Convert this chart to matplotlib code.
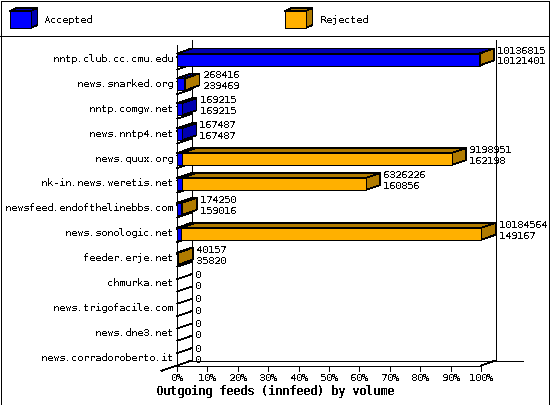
import matplotlib
matplotlib.use('Agg')
from matplotlib import pyplot as plt
from matplotlib.patches import Polygon, Rectangle

plt.rcParams['font.family'] = ['DejaVu Sans Mono']
plt.rcParams['text.antialiased'] = False
plt.rcParams['text.hinting'] = 'native'
plt.rcParams['text.hinting_factor'] = 1

hosts = ['nntp.club.cc.cmu.edu', 'news.snarked.org', 'nntp.comgw.net', 'news.nntp4.net',
         'news.quux.org', 'nk-in.news.weretis.net', 'newsfeed.endofthelinebbs.com',
         'news.sonologic.net', 'feeder.erje.net', 'chmurka.net', 'news.trigofacile.com',
         'news.dne3.net', 'news.corradoroberto.it']
offered = [10136815, 268416, 169215, 167487, 9198951, 6326226, 174250, 10184564, 40157, 0, 0, 0, 0]
accepted = [10121401, 239469, 169215, 167487, 162198, 160856, 159016, 149167, 35820, 0, 0, 0, 0]
ticks = [0, 10, 20, 30, 40, 50, 60, 70, 80, 90, 100]
title = 'Outgoing feeds (innfeed) by volume'

BLUE = '#0000ff'
BLUE_DARK = '#0000b0'
ORANGE = '#ffb000'
ORANGE_DARK = '#b07b00'

# plot box, in pixels of the 550x405 picture
X0 = 177
X1 = 481
Y_TOP = 45
Y_BOT = 365.5
DX = 14.5
DY = 5
ROW = 24.9
ROW0 = 59.5
BAR_H = 6
LW = 0.5
top_value = max(offered)


def xpos(value):
    return X0 + (X1 - X0) * value / top_value


def line(ax, xs, ys, zorder=2):
    ax.plot(xs, ys, color='black', lw=LW, antialiased=False, solid_capstyle='butt', zorder=zorder)


def poly(ax, pts, color, zorder=3):
    ax.add_patch(Polygon(pts, closed=True, facecolor=color, edgecolor='black', lw=LW,
                         antialiased=False, zorder=zorder))


def box(ax, x0, x1, y0, y1, front, dark, dx=DX, dy=DY, zorder=3):
    # front face, top face and right side of one 3d block
    poly(ax, [(x0, y0), (x0 + dx, y0 - dy), (x1 + dx, y0 - dy), (x1, y0)], dark, zorder)
    poly(ax, [(x1, y0), (x1 + dx, y0 - dy), (x1 + dx, y1 - dy), (x1, y1)], dark, zorder)
    poly(ax, [(x0, y0), (x1, y0), (x1, y1), (x0, y1)], front, zorder)


fig = plt.figure(figsize=(5.5, 4.05), dpi=100)
ax = fig.add_axes([0, 0, 1, 1])
ax.set_xlim(0, 550)
ax.set_ylim(405, 0)
ax.axis('off')

# frame and legend
ax.add_patch(Rectangle((0.5, 0.5), 548.5, 404, fill=False, edgecolor='black', lw=LW, antialiased=False))
line(ax, [0, 549], [35.5, 35.5])
box(ax, 10, 31, 11, 28, BLUE, BLUE_DARK, dx=6.5, dy=3)
ax.text(44, 20, 'Accepted', fontsize=7.2, va='center', ha='left')
box(ax, 285, 306, 11, 28, ORANGE, ORANGE_DARK, dx=6.5, dy=3)
ax.text(320, 20, 'Rejected', fontsize=7.2, va='center', ha='left')

# walls
line(ax, [X0, X0], [Y_TOP, Y_BOT])
line(ax, [X0 + DX, X0 + DX], [Y_TOP - DY, Y_BOT - DY])
line(ax, [X1 + DX, X1 + DX], [Y_TOP - DY, Y_BOT - DY])
line(ax, [X0, X1], [Y_BOT, Y_BOT])
line(ax, [X0 + DX, 523], [Y_BOT - DY, Y_BOT - DY])
line(ax, [X1, X1 + DX], [Y_BOT, Y_BOT - DY])
line(ax, [161, X0 + DX], [Y_BOT + 5.5, Y_BOT - DY])
for i in range(26):
    y = Y_BOT - i * 12.33
    line(ax, [X0, X0 + DX], [y, y - DY])

# x axis
for t in ticks:
    x = X0 + (X1 - X0) * t / 100
    line(ax, [x, x], [Y_BOT, Y_BOT + 5])
    ax.text(x, 378, '%d%%' % t, fontsize=7.2, ha='center', va='center')
ax.text(275.5, 392, title, fontsize=8.4, fontweight='bold', ha='center', va='center')

# rows
for i in range(len(hosts)):
    yc = ROW0 + ROW * i
    ax.text(173, yc - 0.5, hosts[i], fontsize=7.2, ha='right', va='center')
    y0 = yc - BAR_H
    y1 = yc + BAR_H
    xa = xpos(accepted[i])
    xo = xpos(offered[i])
    if offered[i] > 0:
        box(ax, X0, xa, y0, y1, BLUE, BLUE_DARK, zorder=3)
        if offered[i] > accepted[i]:
            box(ax, xa, xo, y0, y1, ORANGE, ORANGE_DARK, zorder=4)
    xt = xo + DX + 3
    ax.text(xt, yc - 9, str(offered[i]), fontsize=7.2, ha='left', va='center', zorder=5)
    ax.text(xt, yc + 2, str(accepted[i]), fontsize=7.2, ha='left', va='center', zorder=5)

fig.savefig('out.png', dpi=100, facecolor='white')
plt.close(fig)
